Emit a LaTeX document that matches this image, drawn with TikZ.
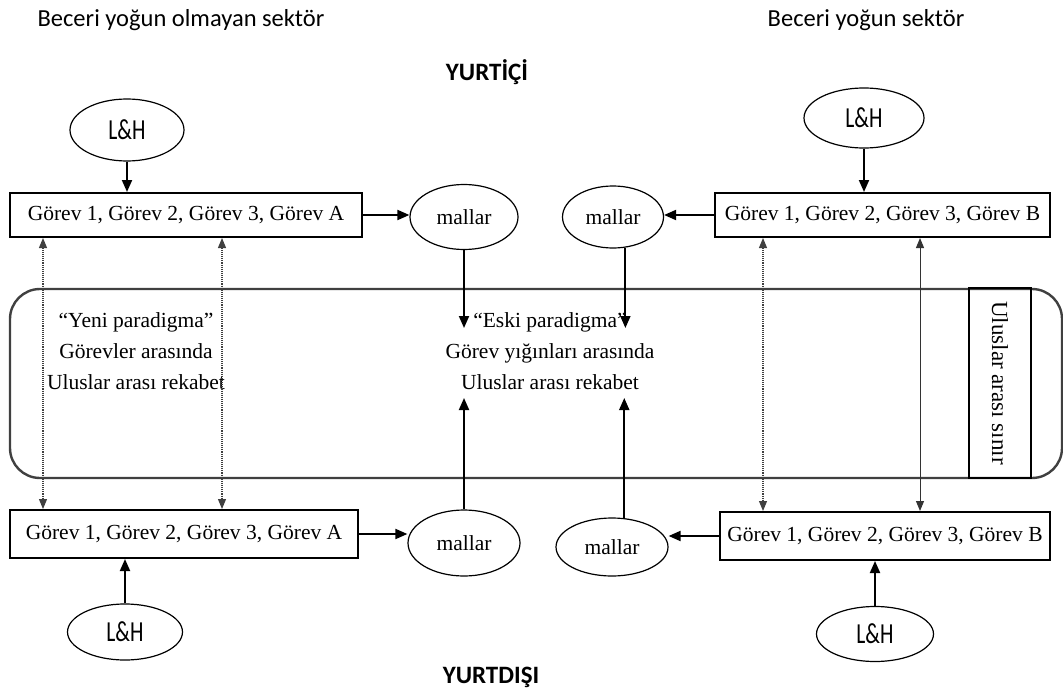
\documentclass[tikz,border=0pt]{standalone}
\usepackage{fontspec}
\setmainfont{Liberation Serif}
\newfontfamily\calfont{Carlito}
\usetikzlibrary{shapes.geometric,arrows.meta,calc}
\newcommand{\tallLH}{\scalebox{1}[1.35]{L\&H}}
\begin{document}
\begin{tikzpicture}[x=1pt,y=-1pt,
  serif/.style={font=\fontsize{21.5}{31}\selectfont},
  sans/.style={font=\calfont\fontsize{24.5}{28}\selectfont},
  head/.style={font=\calfont\bfseries\fontsize{25}{28}\selectfont},
  box/.style={draw,line width=2pt,inner sep=0pt,serif},
  oval/.style={draw,ellipse,line width=1.2pt,inner sep=0pt},
  lh/.style={oval,font=\calfont\fontsize{21.5}{24}\selectfont},
  mal/.style={oval,serif},
  arr/.style={line width=1.9pt,-{Triangle[length=12pt,width=10pt]}},
  darr/.style={line width=1.1pt,densely dotted,black!75,{Triangle[length=10pt,width=8pt]}-{Triangle[length=10pt,width=8pt]}},
  tarr/.style={line width=1pt,black!80,{Triangle[length=10pt,width=8pt]}-{Triangle[length=10pt,width=8pt]}}
]
\useasboundingbox (0,0) rectangle (1063,693);

% headings
\node[sans] (h1) at (181,20) {Beceri yoğun olmayan sektör};
\node[sans] (h2) at (866,20) {Beceri yoğun sektör};
\node[head] (yi) at (487,72) {YURTİÇİ};
\node[head] (yd) at (491,677) {YURTDIŞI};

% frame
\node[draw,line width=2.4pt,black!75,rounded corners=30pt,minimum width=1052pt,minimum height=189pt,inner sep=0pt] (frame) at (536,383.5) {};
\node[draw,line width=2pt,rotate=-90,minimum width=190pt,minimum height=62pt,inner sep=0pt,font=\fontsize{23}{28}\selectfont] (sinir) at (1000,383) {Uluslar arası sınır};

% top row
\node[lh,minimum width=114pt,minimum height=62pt] (lhA1) at (127,130) {\tallLH};
\node[lh,minimum width=120pt,minimum height=60pt] (lhB1) at (864,118) {\tallLH};
\node[box,minimum width=352pt,minimum height=44pt] (boxA1) at (186,215) {Görev 1, Görev 2, Görev 3, Görev A};
\node[box,minimum width=335pt,minimum height=44pt] (boxB1) at (882.5,215) {Görev 1, Görev 2, Görev 3, Görev B};
\node[mal,minimum width=108pt,minimum height=65pt] (malA1) at (464,217) {mallar};
\node[mal,minimum width=101pt,minimum height=62pt] (malB1) at (613,217) {mallar};

% bottom row
\node[box,minimum width=348pt,minimum height=48pt] (boxA2) at (184,534) {Görev 1, Görev 2, Görev 3, Görev A};
\node[box,minimum width=330pt,minimum height=48pt] (boxB2) at (885,536) {Görev 1, Görev 2, Görev 3, Görev B};
\node[mal,minimum width=112pt,minimum height=66pt] (malA2) at (464,543) {mallar};
\node[mal,minimum width=112pt,minimum height=58pt] (malB2) at (612,547) {mallar};
\node[lh,minimum width=115pt,minimum height=56pt] (lhA2) at (125,632) {\tallLH};
\node[lh,minimum width=117pt,minimum height=55pt] (lhB2) at (875,634) {\tallLH};

% middle texts
\node[serif,align=center] (yeni) at (136,351) {“Yeni paradigma”\\Görevler arasında\\Uluslar arası rekabet};
\node[serif,align=center] (eski) at (550,351) {“Eski paradigma”\\Görev yığınları arasında\\Uluslar arası rekabet};

% free ends
\coordinate (eA1) at (464,328);
\coordinate (eB1) at (624,328);
\coordinate (eA2) at (464,398);
\coordinate (eB2) at (624,398);
\coordinate (d1) at (43,0);
\coordinate (d2) at (222,0);
\coordinate (d3) at (763,0);
\coordinate (d4) at (920,0);

% arrows
\draw[arr] (lhA1) -- (lhA1 |- boxA1.north);
\draw[arr] (lhB1) -- (lhB1 |- boxB1.north);
\draw[arr] (boxA1.east) -- (boxA1.east -| malA1.west);
\draw[arr] (boxB1.west) -- (boxB1.west -| malB1.east);
\draw[arr] (malA1.south) -- (malA1.south |- eA1);
\draw[arr] (malB1.-68) -- (malB1.-68 |- eB1);
\draw[arr] (malA2.north) -- (malA2.north |- eA2);
\draw[arr] (malB2.67) -- (malB2.67 |- eB2);
\draw[arr] (boxA2.east) -- (boxA2.east -| malA2.west);
\draw[arr] (boxB2.west) -- (boxB2.west -| malB2.east);
\draw[arr] (lhA2) -- (lhA2 |- boxA2.south);
\draw[arr] (lhB2) -- (lhB2 |- boxB2.south);

\draw[darr] (boxA1.south -| d1) -- (boxA2.north -| d1);
\draw[darr] (boxA1.south -| d2) -- (boxA2.north -| d2);
\draw[darr] (boxB1.south -| d3) -- (boxB2.north -| d3);
\draw[tarr] (boxB1.south -| d4) -- (boxB2.north -| d4);
\end{tikzpicture}
\end{document}
